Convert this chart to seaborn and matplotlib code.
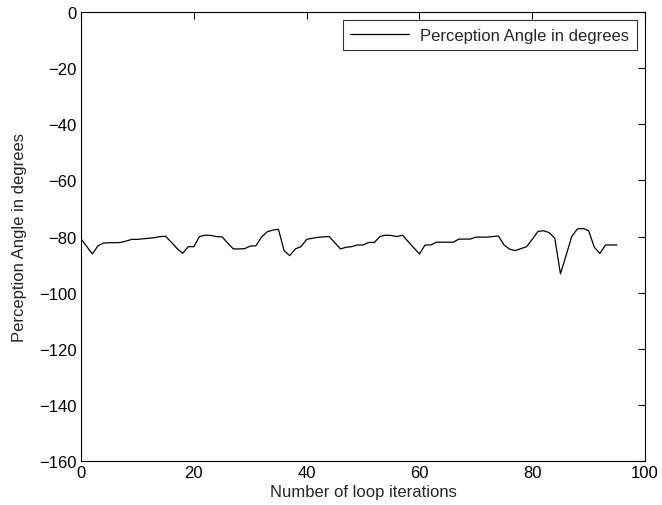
import numpy as np
import pandas as pd
import seaborn as sns
import matplotlib
matplotlib.use('Agg')
import matplotlib.pyplot as plt

# perception angle per loop iteration
angle = [-80.8, -83.5, -86.2, -83.3, -82.3, -82.2, -82.2, -82.1, -81.6, -81.0,
         -81.0, -80.8, -80.6, -80.4, -80.0, -79.9, -82.0, -84.2, -86.0, -83.6,
         -83.6, -80.0, -79.5, -79.6, -80.0, -80.1, -82.3, -84.4, -84.4, -84.3,
         -83.4, -83.3, -80.2, -78.3, -77.7, -77.4, -85.0, -86.8, -84.4, -83.6,
         -81.0, -80.6, -80.3, -80.1, -80.0, -82.2, -84.4, -83.8, -83.6, -83.0,
         -83.0, -82.1, -82.1, -80.0, -79.5, -79.6, -80.0, -79.5, -81.8, -84.0,
         -86.2, -83.0, -83.0, -82.0, -82.0, -82.0, -82.0, -80.9, -80.9, -80.9,
         -80.2, -80.2, -80.2, -80.0, -79.8, -83.0, -84.5, -85.0, -84.3, -83.6,
         -81.0, -78.2, -77.9, -78.6, -80.6, -93.3, -86.7, -80.0, -77.3, -77.1,
         -77.9, -83.8, -86.0, -83.0, -83.0, -83.0]
iteration = list(range(len(angle)))

df = pd.DataFrame({'iteration': iteration, 'angle': angle})

sns.set_style('white')
plt.rcParams['font.family'] = ['Liberation Sans', 'DejaVu Sans']
plt.rcParams['xtick.direction'] = 'in'
plt.rcParams['ytick.direction'] = 'in'

fig = plt.figure(figsize=(6.62, 5.06), dpi=100)
ax = fig.add_axes([0.1224, 0.087, 0.8520, 0.887])

sns.lineplot(x='iteration', y='angle', data=df, ax=ax, color='black',
             linewidth=0.9, label='Perception Angle in degrees')

ax.set_xlim(0, 100)
ax.set_ylim(-160, 0)
ax.set_xticks(np.arange(0, 101, 20))
ax.set_yticks(np.arange(-160, 1, 20))
ax.set_yticklabels([str(v).replace('-', '\u2212') for v in range(-160, 1, 20)])
ax.tick_params(labelsize=12, length=5, width=0.8, top=True, right=True,
               color='black', labelcolor='black', pad=3)
for s in ax.spines.values():
    s.set_color('black')
    s.set_linewidth(0.8)

ax.set_xlabel('Number of loop iterations', fontsize=12, labelpad=3)
ax.set_ylabel('Perception Angle in degrees', fontsize=12, labelpad=9)

leg = ax.legend(loc='upper right', fontsize=12, frameon=True, fancybox=False,
                handlelength=3.5, handletextpad=0.7, borderpad=0.45,
                borderaxespad=0.5)
leg.get_frame().set_edgecolor('black')
leg.get_frame().set_linewidth(0.8)

fig.savefig('out.png', dpi=100, facecolor='white')
